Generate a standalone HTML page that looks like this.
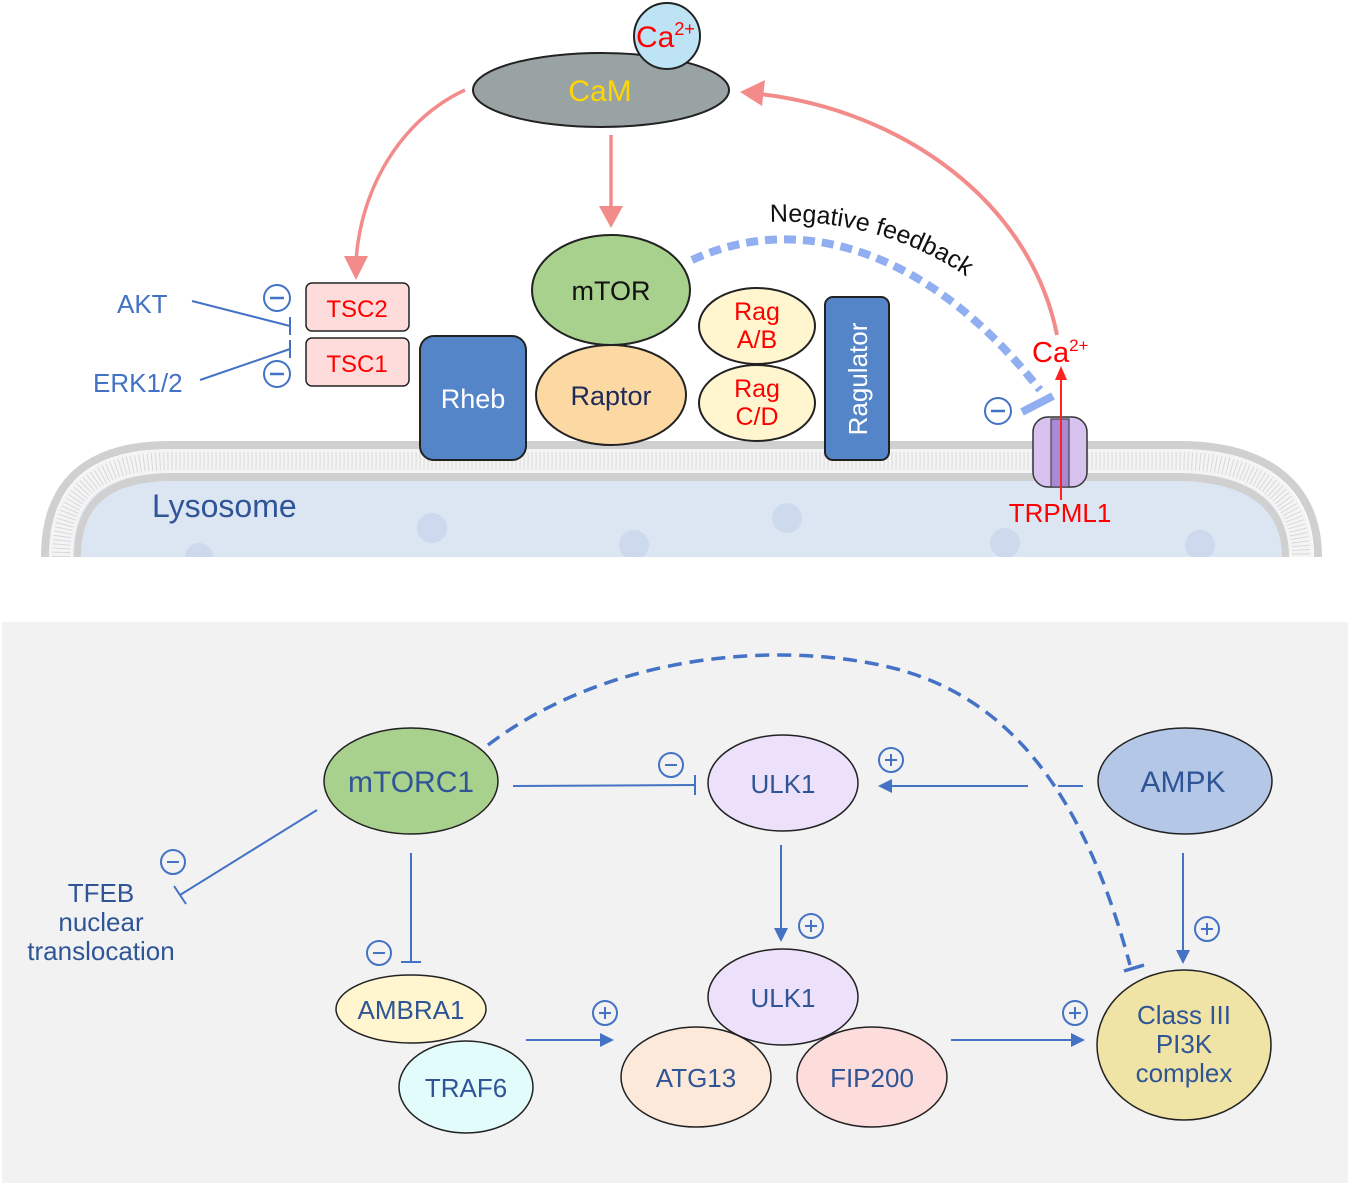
<!DOCTYPE html>
<html><head><meta charset="utf-8"><style>
html,body{margin:0;padding:0;background:#fff}
svg{display:block;font-family:"Liberation Sans",Arial,sans-serif}
</style></head><body>
<svg width="1350" height="1183" viewBox="0 0 1350 1183" xmlns="http://www.w3.org/2000/svg">
<defs>
<marker id="ab" markerWidth="14" markerHeight="14" refX="12" refY="7" orient="auto" markerUnits="userSpaceOnUse"><path d="M0,0 L14,7 L0,14 z" fill="#4472c4"/></marker>
</defs>

<!-- Lysosome -->
<path d="M60,557 C60,490 100,461 172,461 L1178,461 C1250,461 1302,490 1302,557 Z" fill="#dce6f3"/>
<path d="M61,557 C61,490 100,461 172,461 L1178,461 C1250,461 1301,490 1301,557" fill="none" stroke="#f4f4f4" stroke-width="24"/>
<path d="M61,557 C61,490 100,461 172,461 L1178,461 C1250,461 1301,490 1301,557" fill="none" stroke="#d8d8d8" stroke-width="18" stroke-dasharray="1 3"/>
<path d="M45,557 C45,480 90,445 170,445 L1180,445 C1260,445 1318,480 1318,557" fill="none" stroke="#d0d0d0" stroke-width="8" stroke-dasharray="7 1.5" stroke-linecap="round"/>
<path d="M78,557 C78,500 110,477 175,477 L1175,477 C1240,477 1285,500 1285,557" fill="none" stroke="#d0d0d0" stroke-width="8" stroke-dasharray="7 1.5" stroke-linecap="round"/>
<path d="M81,557 C81,502 113,481 175,481 L1175,481 C1237,481 1282,502 1282,557 Z" fill="#dce6f3"/>
<g fill="#cdd9ec"><circle cx="432" cy="528" r="15"/><circle cx="634" cy="545" r="15"/><circle cx="787" cy="518" r="15"/><circle cx="1005" cy="543" r="15"/><circle cx="1200" cy="545" r="15"/><circle cx="199" cy="557" r="14"/></g>
<rect x="0" y="557" width="1350" height="65" fill="#fff"/>
<text x="152" y="517" font-size="32" fill="#2f5597">Lysosome</text>

<!-- CaM -->
<ellipse cx="601" cy="90" rx="128" ry="37" fill="#9aa3a3" stroke="#222" stroke-width="2"/>
<text x="600" y="101" font-size="30" fill="#ffd700" text-anchor="middle">CaM</text>
<circle cx="667" cy="36" r="33" fill="#bde3f5" stroke="#222" stroke-width="2"/>
<text x="636" y="47" font-size="30" fill="#ff0000">Ca<tspan font-size="18" dy="-12">2+</tspan></text>

<!-- pink arrows -->
<path d="M465,90 C400,120 360,190 356,262" fill="none" stroke="#f38b8b" stroke-width="3.5"/>
<path d="M344,256 L356,280 L368,256 z" fill="#f38b8b"/>
<line x1="611" y1="135" x2="611" y2="210" stroke="#f38b8b" stroke-width="3.5"/>
<path d="M599,206 L611,228 L623,206 z" fill="#f38b8b"/>
<path d="M1057,335 C1030,200 900,110 760,94" fill="none" stroke="#f38b8b" stroke-width="4" />
<path d="M740,92 L765,80 L762,106 z" fill="#f38b8b"/>

<!-- TSC -->
<rect x="306" y="283" width="103" height="48" rx="6" fill="#ffdcdc" stroke="#222" stroke-width="1.5"/>
<text x="357" y="317" font-size="24" fill="#ff0000" text-anchor="middle">TSC2</text>
<rect x="306" y="338" width="103" height="48" rx="6" fill="#ffdcdc" stroke="#222" stroke-width="1.5"/>
<text x="357" y="372" font-size="24" fill="#ff0000" text-anchor="middle">TSC1</text>
<text x="117" y="313" font-size="26" fill="#4472c4">AKT</text>
<text x="93" y="392" font-size="26" fill="#4472c4">ERK1/2</text>
<line x1="192" y1="301" x2="290" y2="326" stroke="#4472c4" stroke-width="2"/>
<line x1="290" y1="317" x2="290" y2="335" stroke="#4472c4" stroke-width="2"/>
<line x1="200" y1="380" x2="290" y2="349" stroke="#4472c4" stroke-width="2"/>
<line x1="290" y1="340" x2="290" y2="358" stroke="#4472c4" stroke-width="2"/>
<g fill="none" stroke="#4472c4" stroke-width="2"><circle cx="277" cy="298" r="13"/><circle cx="277" cy="374" r="13"/><circle cx="998" cy="411" r="13"/></g>
<g stroke="#4472c4" stroke-width="2.5"><line x1="270" y1="298" x2="284" y2="298"/><line x1="270" y1="374" x2="284" y2="374"/><line x1="991" y1="411" x2="1005" y2="411"/></g>

<!-- Rheb etc -->
<rect x="420" y="336" width="106" height="124" rx="14" fill="#5585c9" stroke="#222" stroke-width="2"/>
<text x="473" y="408" font-size="27" fill="#fff" text-anchor="middle">Rheb</text>
<ellipse cx="611" cy="395" rx="75" ry="50" fill="#fcd9a3" stroke="#222" stroke-width="2"/>
<text x="611" y="405" font-size="27" fill="#1f2a5a" text-anchor="middle">Raptor</text>
<ellipse cx="611" cy="290" rx="79" ry="55" fill="#a9d18e" stroke="#222" stroke-width="2"/>
<text x="611" y="300" font-size="27" fill="#111" text-anchor="middle">mTOR</text>
<ellipse cx="757" cy="326" rx="58" ry="38" fill="#fff6d0" stroke="#222" stroke-width="2"/>
<text x="757" y="320" font-size="25" fill="#ff0000" text-anchor="middle">Rag</text>
<text x="757" y="348" font-size="25" fill="#ff0000" text-anchor="middle">A/B</text>
<ellipse cx="757" cy="403" rx="58" ry="38" fill="#fff6d0" stroke="#222" stroke-width="2"/>
<text x="757" y="397" font-size="25" fill="#ff0000" text-anchor="middle">Rag</text>
<text x="757" y="425" font-size="25" fill="#ff0000" text-anchor="middle">C/D</text>
<rect x="825" y="297" width="64" height="163" rx="8" fill="#5585c9" stroke="#222" stroke-width="2"/>
<text x="0" y="0" font-size="26" fill="#fff" text-anchor="middle" transform="translate(867,379) rotate(-90)">Ragulator</text>

<!-- Negative feedback -->
<path d="M692,260 C800,210 930,250 1040,390" fill="none" stroke="#90aef0" stroke-width="8" stroke-dasharray="12 7"/>
<line x1="1022" y1="412" x2="1053" y2="396" stroke="#90aef0" stroke-width="8"/>
<path id="nf" d="M770,222 C860,218 945,250 1005,308" fill="none"/>
<text font-size="25" fill="#111"><textPath href="#nf">Negative feedback</textPath></text>

<!-- TRPML1 -->
<rect x="1033" y="417" width="54" height="70" rx="15" fill="#d8c2ef" stroke="#333" stroke-width="1.5"/>
<rect x="1051" y="419" width="18" height="68" fill="#a98ad6" stroke="#333" stroke-width="1"/>
<line x1="1061" y1="500" x2="1061" y2="376" stroke="#ff2020" stroke-width="2"/>
<path d="M1055,380 L1061,366 L1067,380 z" fill="#ff2020"/>
<text x="1032" y="362" font-size="29" fill="#ff0000">Ca<tspan font-size="17" dy="-11">2+</tspan></text>
<text x="1060" y="522" font-size="26" fill="#ff0000" text-anchor="middle">TRPML1</text>

<!-- Bottom panel -->
<rect x="2" y="622" width="1346" height="561" fill="#f2f2f2"/>
<path d="M488,745 C600,660 760,640 880,665 C1000,690 1080,780 1130,965" fill="none" stroke="#4472c4" stroke-width="3.5" stroke-dasharray="14 8"/>
<line x1="1124" y1="971" x2="1144" y2="965" stroke="#4472c4" stroke-width="3.5"/>

<g stroke="#4472c4" stroke-width="2" fill="none">
<line x1="513" y1="786" x2="695" y2="785"/><line x1="695" y1="775" x2="695" y2="795"/>
<line x1="317" y1="810" x2="180" y2="895"/><line x1="174" y1="886" x2="186" y2="904"/>
<line x1="411" y1="853" x2="411" y2="962"/><line x1="401" y1="962" x2="421" y2="962"/>
<line x1="1083" y1="786" x2="1058" y2="786"/><line x1="1028" y1="786" x2="880" y2="786" marker-end="url(#ab)"/>
<line x1="781" y1="845" x2="781" y2="940" marker-end="url(#ab)"/>
<line x1="1183" y1="853" x2="1183" y2="962" marker-end="url(#ab)"/>
<line x1="526" y1="1040" x2="612" y2="1040" marker-end="url(#ab)"/>
<line x1="951" y1="1040" x2="1083" y2="1040" marker-end="url(#ab)"/>
<circle cx="173" cy="862" r="12"/><circle cx="379" cy="953" r="12"/><circle cx="671" cy="765" r="12"/>
<circle cx="891" cy="760" r="12"/><circle cx="811" cy="926" r="12"/><circle cx="1207" cy="929" r="12"/>
<circle cx="605" cy="1013" r="12"/><circle cx="1075" cy="1013" r="12"/>
</g>
<g stroke="#4472c4" stroke-width="2">
<line x1="167" y1="862" x2="179" y2="862"/><line x1="373" y1="953" x2="385" y2="953"/><line x1="665" y1="765" x2="677" y2="765"/>
<line x1="885" y1="760" x2="897" y2="760"/><line x1="891" y1="754" x2="891" y2="766"/>
<line x1="805" y1="926" x2="817" y2="926"/><line x1="811" y1="920" x2="811" y2="932"/>
<line x1="1201" y1="929" x2="1213" y2="929"/><line x1="1207" y1="923" x2="1207" y2="935"/>
<line x1="599" y1="1013" x2="611" y2="1013"/><line x1="605" y1="1007" x2="605" y2="1019"/>
<line x1="1069" y1="1013" x2="1081" y2="1013"/><line x1="1075" y1="1007" x2="1075" y2="1019"/>
</g>

<ellipse cx="411" cy="781" rx="87" ry="53" fill="#a9d18e" stroke="#222" stroke-width="1.5"/>
<text x="411" y="792" font-size="30" fill="#2f5597" text-anchor="middle">mTORC1</text>
<ellipse cx="783" cy="783" rx="75" ry="48" fill="#ece0fb" stroke="#222" stroke-width="1.5"/>
<text x="783" y="793" font-size="26" fill="#2f5597" text-anchor="middle">ULK1</text>
<ellipse cx="1185" cy="781" rx="87" ry="53" fill="#b4c7e7" stroke="#222" stroke-width="1.5"/>
<text x="1183" y="792" font-size="30" fill="#2f5597" text-anchor="middle">AMPK</text>
<text x="101" y="902" font-size="26" fill="#2f5597" text-anchor="middle">TFEB</text>
<text x="101" y="931" font-size="26" fill="#2f5597" text-anchor="middle">nuclear</text>
<text x="101" y="960" font-size="26" fill="#2f5597" text-anchor="middle">translocation</text>

<ellipse cx="466" cy="1087" rx="67" ry="46" fill="#e2fbfb" stroke="#222" stroke-width="1.5"/>
<text x="466" y="1097" font-size="26" fill="#2f5597" text-anchor="middle">TRAF6</text>
<ellipse cx="411" cy="1009" rx="75" ry="34" fill="#fff6d0" stroke="#222" stroke-width="1.5"/>
<text x="411" y="1019" font-size="26" fill="#2f5597" text-anchor="middle">AMBRA1</text>
<ellipse cx="783" cy="997" rx="75" ry="48" fill="#ece0fb" stroke="#222" stroke-width="1.5"/>
<text x="783" y="1007" font-size="26" fill="#2f5597" text-anchor="middle">ULK1</text>
<ellipse cx="696" cy="1077" rx="75" ry="50" fill="#fde9da" stroke="#222" stroke-width="1.5"/>
<text x="696" y="1087" font-size="26" fill="#2f5597" text-anchor="middle">ATG13</text>
<ellipse cx="872" cy="1077" rx="75" ry="50" fill="#fddcdc" stroke="#222" stroke-width="1.5"/>
<text x="872" y="1087" font-size="26" fill="#2f5597" text-anchor="middle">FIP200</text>
<ellipse cx="1184" cy="1045" rx="87" ry="75" fill="#f0e3a6" stroke="#222" stroke-width="1.5"/>
<text x="1184" y="1024" font-size="26" fill="#2f5597" text-anchor="middle">Class III</text>
<text x="1184" y="1053" font-size="26" fill="#2f5597" text-anchor="middle">PI3K</text>
<text x="1184" y="1082" font-size="26" fill="#2f5597" text-anchor="middle">complex</text>
</svg>
</body></html>
